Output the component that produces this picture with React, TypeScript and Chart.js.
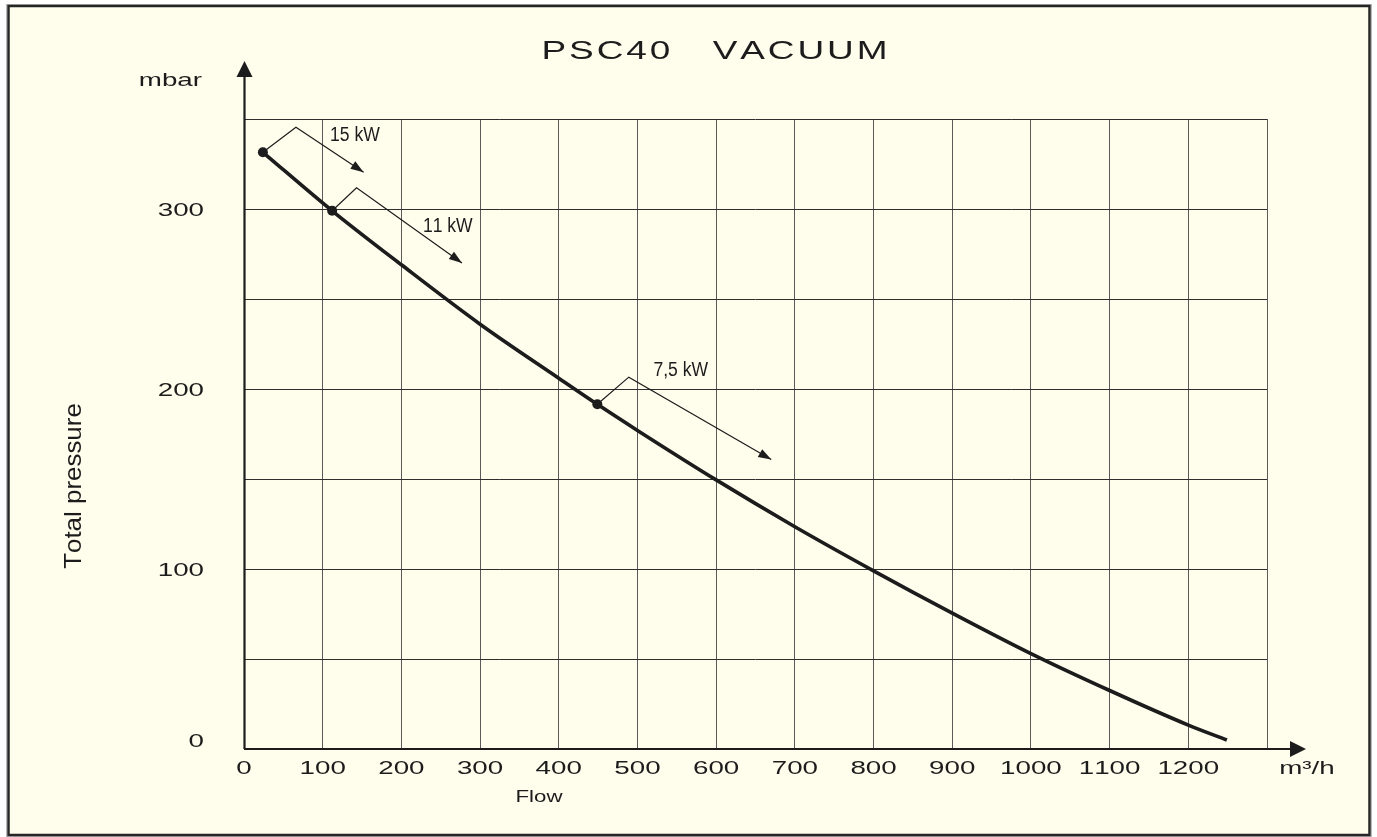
import React, { useEffect, useRef } from "react";
import { Chart, registerables } from "chart.js";

Chart.register(...registerables);

// ---- Data ----
const flowValues = [24, 112, 200, 300, 400, 449, 500, 600, 700, 800, 900, 1000, 1100, 1200, 1249];
const pressureValues = [331.5, 299, 269, 236, 206, 191.5, 177, 149.5, 123.5, 99, 75.5, 53, 32.5, 13.3, 5];

const markerFlows = [24, 112, 449];
const markerPressures = [331.5, 299, 191.5];

const xTickValues = [0, 100, 200, 300, 400, 500, 600, 700, 800, 900, 1000, 1100, 1200];
const yTickValues = [0, 100, 200, 300];

const annotationLabels = ["15 kW", "11 kW", "7,5 kW"];
const annotationElbowFlows = [66, 143, 489];
const annotationElbowPressures = [345.4, 311.8, 206.6];
const annotationTipFlows = [152, 277, 670];
const annotationTipPressures = [320.4, 270, 160.8];
const annotationTextFlows = [141, 259, 555];
const annotationTextPressures = [341, 290, 210];

const titleText = "PSC40   VACUUM";
const yUnit = "mbar";
const xUnit = "m\u00B3/h";
const xTitle = "Flow";
const yTitle = "Total pressure";

const FONT = '"Liberation Sans", Arial, Helvetica, sans-serif';
const INK = "#1c1c1c";

function drawText(
  ctx: CanvasRenderingContext2D,
  text: string,
  x: number,
  y: number,
  opts: { size: number; sx?: number; align?: string; tracking?: number; rotate?: number; color?: string }
) {
  const sx = opts.sx ?? 1;
  const tracking = opts.tracking ?? 0;
  ctx.save();
  ctx.translate(x, y);
  if (opts.rotate) ctx.rotate(opts.rotate);
  ctx.scale(sx, 1);
  ctx.font = `${opts.size}px ${FONT}`;
  ctx.fillStyle = opts.color ?? INK;
  ctx.textBaseline = "middle";
  ctx.textAlign = "left";
  const chars = Array.from(text);
  const widths = chars.map((c) => ctx.measureText(c).width);
  const total = widths.reduce((a, b) => a + b, 0) + tracking * (chars.length - 1);
  let cx = opts.align === "right" ? -total : opts.align === "left" ? 0 : -total / 2;
  chars.forEach((c, i) => {
    ctx.fillText(c, cx, 0);
    cx += widths[i] + tracking;
  });
  ctx.restore();
}

function arrowHead(ctx: CanvasRenderingContext2D, x0: number, y0: number, x1: number, y1: number, len: number, half: number) {
  const a = Math.atan2(y1 - y0, x1 - x0);
  ctx.beginPath();
  ctx.moveTo(x1, y1);
  ctx.lineTo(x1 - len * Math.cos(a) + half * Math.sin(a), y1 - len * Math.sin(a) - half * Math.cos(a));
  ctx.lineTo(x1 - len * Math.cos(a) - half * Math.sin(a), y1 - len * Math.sin(a) + half * Math.cos(a));
  ctx.closePath();
  ctx.fill();
}

const decorPlugin = {
  id: "decor",
  beforeDraw(chart: any) {
    const ctx = chart.ctx as CanvasRenderingContext2D;
    ctx.save();
    ctx.fillStyle = "#ffffff";
    ctx.fillRect(0, 0, chart.width, chart.height);
    ctx.fillStyle = "#FFFDEC";
    ctx.fillRect(8.5, 6, 1361, 829);
    ctx.strokeStyle = "#b8b8b8";
    ctx.lineWidth = 1;
    ctx.strokeRect(6.5, 4.5, 1365, 832);
    ctx.strokeStyle = "#262626";
    ctx.lineWidth = 2.5;
    ctx.strokeRect(8.5, 6, 1361, 829);
    ctx.restore();
  },
  afterDraw(chart: any) {
    const ctx = chart.ctx as CanvasRenderingContext2D;
    const xs = chart.scales.x;
    const ys = chart.scales.y;
    const area = chart.chartArea;
    ctx.save();

    // Axes with arrows
    ctx.strokeStyle = INK;
    ctx.fillStyle = INK;
    ctx.lineWidth = 2.2;
    const ox = Math.round(area.left) + 0.5;
    const oy = Math.round(area.bottom);
    ctx.beginPath();
    ctx.moveTo(ox, oy);
    ctx.lineTo(ox, area.top - 45);
    ctx.stroke();
    ctx.beginPath();
    ctx.moveTo(ox, area.top - 58);
    ctx.lineTo(ox - 8, area.top - 42);
    ctx.lineTo(ox + 8, area.top - 42);
    ctx.closePath();
    ctx.fill();

    ctx.beginPath();
    ctx.moveTo(ox, oy);
    ctx.lineTo(area.right + 26, oy);
    ctx.stroke();
    ctx.beginPath();
    ctx.moveTo(area.right + 39, oy);
    ctx.lineTo(area.right + 23, oy - 8);
    ctx.lineTo(area.right + 23, oy + 8);
    ctx.closePath();
    ctx.fill();

    // Annotations
    ctx.lineWidth = 1.2;
    annotationLabels.forEach((label, i) => {
      const sx = xs.getPixelForValue(markerFlows[i]);
      const sy = ys.getPixelForValue(markerPressures[i]);
      const ex = xs.getPixelForValue(annotationElbowFlows[i]);
      const ey = ys.getPixelForValue(annotationElbowPressures[i]);
      const tx = xs.getPixelForValue(annotationTipFlows[i]);
      const ty = ys.getPixelForValue(annotationTipPressures[i]);
      ctx.beginPath();
      ctx.moveTo(sx, sy);
      ctx.lineTo(ex, ey);
      ctx.lineTo(tx, ty);
      ctx.stroke();
      arrowHead(ctx, ex, ey, tx, ty, 13, 4.5);
      drawText(ctx, label, xs.getPixelForValue(annotationTextFlows[i]), ys.getPixelForValue(annotationTextPressures[i]), {
        size: 19.5,
        sx: 0.9,
      });
    });

    // Tick labels
    xTickValues.forEach((v) => {
      drawText(ctx, String(v), xs.getPixelForValue(v), area.bottom + 20, { size: 18.5, sx: 1.5 });
    });
    yTickValues.forEach((v) => {
      const py = ys.getPixelForValue(v) + (v === 0 ? -7 : 1.5);
      drawText(ctx, String(v), area.left - 40, py, { size: 18.5, sx: 1.5, align: "right" });
    });

    // Units and titles
    drawText(ctx, yUnit, area.left - 42, area.top - 38, { size: 18.5, sx: 1.5, align: "right" });
    drawText(ctx, xUnit, area.right + 40, area.bottom + 20, { size: 18.5, sx: 1.5 });
    drawText(ctx, xTitle, 539, area.bottom + 48, { size: 16.5, sx: 1.35 });
    drawText(ctx, yTitle, 74, 486, { size: 24, sx: 1.08, rotate: -Math.PI / 2 });
    drawText(ctx, titleText, 714.5, 52, { size: 25.5, sx: 1.45, tracking: 2 });

    ctx.restore();
  },
};

export default function App() {
  const ref = useRef<HTMLCanvasElement | null>(null);

  useEffect(() => {
    if (!ref.current) return;
    const curve = flowValues.map((x, i) => ({ x, y: pressureValues[i] }));
    const markers = markerFlows.map((x, i) => ({ x, y: markerPressures[i] }));
    const chart = new Chart(ref.current, {
      type: "line",
      data: {
        datasets: [
          {
            data: markers,
            showLine: false,
            pointRadius: 5,
            pointBackgroundColor: INK,
            pointBorderColor: INK,
            pointBorderWidth: 0,
          } as any,
          {
            data: curve,
            borderColor: INK,
            borderWidth: 3.6,
            pointRadius: 0,
            cubicInterpolationMode: "monotone",
            fill: false,
            borderCapStyle: "butt",
          } as any,
        ],
      },
      options: {
        responsive: false,
        animation: false,
        events: [],
        layout: { padding: { left: 244, right: 110, top: 119, bottom: 88 } },
        plugins: { legend: { display: false }, tooltip: { enabled: false }, title: { display: false } },
        scales: {
          x: {
            type: "linear",
            min: 0,
            max: 1300,
            ticks: { display: false, stepSize: 100 },
            grid: { drawTicks: false, color: "#5a5a5a", lineWidth: 1 },
            border: { display: false },
          },
          y: {
            type: "linear",
            min: 0,
            max: 350,
            ticks: { display: false, stepSize: 50 },
            grid: { drawTicks: false, color: "#2e2e2e", lineWidth: 1 },
            border: { display: false },
          },
        },
      },
      plugins: [decorPlugin],
    });
    return () => chart.destroy();
  }, []);

  return (
    <div style={{ position: "fixed", left: 0, top: 0, width: 1377, height: 837, background: "#fff" }}>
      <canvas ref={ref} width={1377} height={837} style={{ display: "block", width: 1377, height: 837 }} />
    </div>
  );
}
